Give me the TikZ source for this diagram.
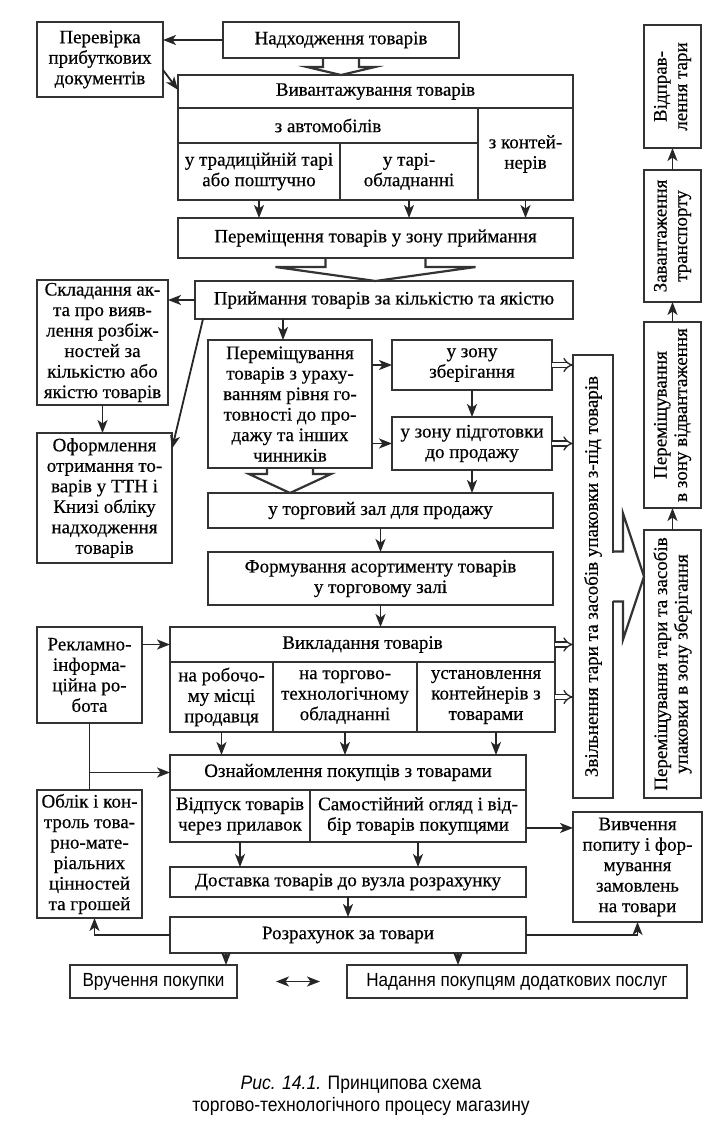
\documentclass[tikz,border=0pt]{standalone}
\usepackage{fontspec}
\setmainfont{Liberation Serif}[FakeBold=0.4]
\newfontfamily\nsans{Liberation Sans}[FakeStretch=0.9]
\usetikzlibrary{arrows.meta,calc}
\newcommand\bx[6]{\node[box, anchor=north west, minimum width={(#4-#2)*1pt}, minimum height={(#5-#3)*1pt}] (#1) at (#2,#3) {#6};}
\begin{document}
\begin{tikzpicture}[x=1pt,y=-1pt,
  box/.style={draw=black!80, line width=2.6pt, inner sep=0pt, outer sep=0pt, align=center, font=\fontsize{19}{20.5}\selectfont},
  arr/.style={draw=black!85, line width=1.8pt, -{Stealth[length=13pt,width=10pt,inset=3.5pt]}},
  arrb/.style={draw=black!85, line width=1.8pt, {Stealth[length=13pt,width=10pt,inset=3.5pt]}-{Stealth[length=13pt,width=10pt,inset=3.5pt]}},
  ln/.style={draw=black!85, line width=1.8pt},
  dbl/.style={draw=black!85, double=white, double distance=3.6pt, line width=1.3pt, -{Implies}},
  fat/.style={draw=black!80, line width=2.2pt, line join=miter},
  rtext/.style={rotate=90, align=center, font=\fontsize{19}{20.5}\selectfont},
]
\fill[white] (0,0) rectangle (722,1129);
\useasboundingbox (0,0) rectangle (722,1129);

\bx{per}{37}{22}{163}{97}{Перевірка\\прибуткових\\документів}
\bx{nad}{223}{22}{459}{58}{Надходження товарів}
\bx{vyv}{178}{75}{573}{108}{Вивантажування товарів}
\bx{avt}{178}{108}{478}{143}{з автомобілів}
\bx{kont}{478}{108}{573}{200}{з контей-\\нерів}
\bx{trad}{178}{143}{340}{200}{у традиційній тарі\\або поштучно}
\bx{tarob}{340}{143}{478}{200}{у тарі-\\обладнанні}
\bx{perzp}{178}{218}{573}{258}{Переміщення товарів у зону приймання}
\bx{pryi}{195}{281}{573}{319}{Приймання товарів за кількістю та якістю}
\bx{skl}{37}{280}{168}{405}{Складання ак-\\та про вияв-\\лення розбіж-\\ностей за\\кількістю або\\якістю товарів}
\bx{ofo}{37}{433}{172}{563}{Оформлення\\отримання то-\\варів у ТТН і\\Книзі обліку\\надходження\\товарів}
\bx{prm}{208}{340}{372}{468}{Переміщування\\товарів з ураху-\\ванням рівня го-\\товності до про-\\дажу та інших\\чинників}
\bx{zber}{392}{340}{552}{390}{у зону\\зберігання}
\bx{pidg}{392}{417}{552}{470}{у зону підготовки\\до продажу}
\bx{torg}{208}{493}{553}{528}{у торговий зал для продажу}
\bx{form}{208}{552}{553}{605}{Формування асортименту товарів\\у торговому залі}
\bx{vykl}{170}{627}{555}{662}{Викладання товарів}
\bx{rob}{170}{662}{273}{732}{на робочо-\\му місці\\продавця}
\bx{tob}{273}{662}{417}{732}{на торгово-\\технологічному\\обладнанні}
\bx{ust}{417}{662}{555}{732}{установлення\\контейнерів з\\товарами}
\bx{rekl}{37}{627}{142}{723}{Рекламно-\\інформа-\\ційна ро-\\бота}
\bx{ozn}{170}{755}{526}{790}{Ознайомлення покупців з товарами}
\bx{vidp}{170}{790}{310}{842}{Відпуск товарів\\через прилавок}
\bx{sam}{310}{790}{526}{842}{Самостійний огляд і від-\\бір товарів покупцями}
\bx{oblik}{37}{790}{142}{918}{Облік і кон-\\троль това-\\рно-мате-\\ріальних\\цінностей\\та грошей}
\bx{dost}{170}{867}{526}{897}{Доставка товарів до вузла розрахунку}
\bx{rozr}{170}{917}{526}{953}{Розрахунок за товари}
\bx{vyvch}{573}{812}{702}{922}{Вивчення\\попиту і фор-\\мування\\замовлень\\на товари}
\bx{vruch}{70}{965}{237}{998}{\nsans\fontsize{19}{21}\selectfont Вручення покупки}
\bx{nadan}{347}{965}{687}{998}{\nsans\fontsize{19}{21}\selectfont Надання покупцям додаткових послуг}
\bx{zvil}{573}{355}{613}{798}{}
\bx{ptz}{644}{530}{701}{798}{}
\bx{pvv}{644}{322}{701}{508}{}
\bx{zavt}{644}{170}{701}{302}{}
\bx{vidpr}{644}{25}{701}{148}{}

\node[rtext] (tzvil) at (zvil.center) {Звільнення тари та засобів упаковки з-під товарів};
\node[rtext] (tptz) at (ptz.center) {Переміщування тари та засобів\\упаковки в зону зберігання};
\node[rtext] (tpvv) at (pvv.center) {Переміщування\\в зону відвантаження};
\node[rtext] (tzavt) at (zavt.center) {Завантаження\\транспорту};
\node[rtext] (tvidpr) at (vidpr.center) {Відправ-\\лення тари};

% fat arrows
\draw[fat] ($(nad.south)+(-18,0)$) -- ++(0,9) -- ++(-16,0) -- (nad.south |- vyv.north) -- ($(nad.south)+(34,9)$) -- ++(-16,0) -- ++(0,-9);
\draw[fat] ($(perzp.south)+(-50,0)$) -- ++(0,9) -- ++(-50,0) -- (perzp.south |- pryi.north) -- ($(perzp.south)+(100,9)$) -- ++(-50,0) -- ++(0,-9);
\draw[fat] ($(prm.south)+(-23,0)$) -- ++(0,6) -- ++(-18,0) -- (prm.south |- torg.north) -- ($(prm.south)+(41,6)$) -- ++(-18,0) -- ++(0,-6);
\fill[white] ($(zvil.east)+(-2,-24)$) rectangle ($(zvil.east)+(2,24)$);
\draw[fat] ($(zvil.east)+(0,-25)$) -- ++(10,0) -- ++(0,-38) -- (zvil.east -| ptz.west) -- ($(zvil.east)+(10,63)$) -- ++(0,-38) -- ++(-10,0);

% connectors
\draw[arr] (nad.west) -- (nad.west -| per.east);
\draw[arr] ($(per.north east)!0.64!(per.south east)$) -- ($(vyv.north west)!0.45!(vyv.south west)$);
\draw[arr] (trad.south) -- (trad.south |- perzp.north);
\draw[arr] (tarob.south) -- (tarob.south |- perzp.north);
\draw[arr] (kont.south) -- (kont.south |- perzp.north);
\draw[arr] (pryi.west) -- (pryi.west -| skl.east);
\draw[arr] (skl.south) -- (skl.south |- ofo.north);
\draw[arr] ($(pryi.south west)+(8,0)$) -- ($(ofo.north east)!0.12!(ofo.south east)$);
\draw[arr] ($(prm.north |- pryi.south)+(-7,0)$) -- ($(prm.north)+(-7,0)$);
\draw[arr] (zber.west -| prm.east) -- (zber.west);
\draw[arr] (pidg.west -| prm.east) -- (pidg.west);
\draw[arr] (zber.south) -- (pidg.north);
\draw[arr] (pidg.south) -- (pidg.south |- torg.north);
\draw[arr] (torg.south) -- (form.north);
\draw[arr] (form.south) -- (form.south |- vykl.north);
\draw[arr] (rekl.east |- vykl.west) -- (vykl.west);
\draw[ln] (rekl.south) -- (oblik.north);
\draw[arr] (rekl.south |- ozn.west) -- (ozn.west);
\draw[arr] (rob.south) -- (rob.south |- ozn.north);
\draw[arr] (tob.south) -- (tob.south |- ozn.north);
\draw[arr] ($(ust.south)+(10,0)$) -- ($(ust.south |- ozn.north)+(10,0)$);
\coordinate (s1) at ($(sam.north east)!0.73!(sam.south east)$);
\draw[arr] (s1) -- (s1 -| vyvch.west);
\draw[arr] (vidp.south) -- (vidp.south |- dost.north);
\draw[arr] (sam.south) -- (sam.south |- dost.north);
\draw[arr] (dost.south) -- (dost.south |- rozr.north);
\draw[arr] (rozr.west) -| ($(oblik.south)+(5,0)$);
\draw[arr] (rozr.east) -| (vyvch.south);
\coordinate (r1) at ($(rozr.south west)+(56,0)$);
\draw[arr] (r1) -- (r1 |- vruch.north);
\coordinate (r2) at ($(rozr.south west)+(288,0)$);
\draw[arr] (r2) -- (r2 |- nadan.north);
\draw[arrb] ($(vruch.east)+(39,0)$) -- ($(nadan.west)+(-27,0)$);
\draw[dbl] (zber.east) -- (zber.east -| zvil.west);
\draw[dbl] (pidg.east) -- (pidg.east -| zvil.west);
\draw[dbl] (vykl.east) -- (vykl.east -| zvil.west);
\draw[dbl] (ust.east) -- (ust.east -| zvil.west);
\draw[arr] (ptz.north) -- (pvv.south);
\draw[arr] (pvv.north) -- (zavt.south);
\draw[arr] (zavt.north) -- (vidpr.south);

\node[font=\nsans\fontsize{19.5}{22}\selectfont, align=center] (cap) at (361,1096) {\textit{Рис. 14.1.} Принципова схема\\торгово-технологічного процесу магазину};
\end{tikzpicture}
\end{document}
